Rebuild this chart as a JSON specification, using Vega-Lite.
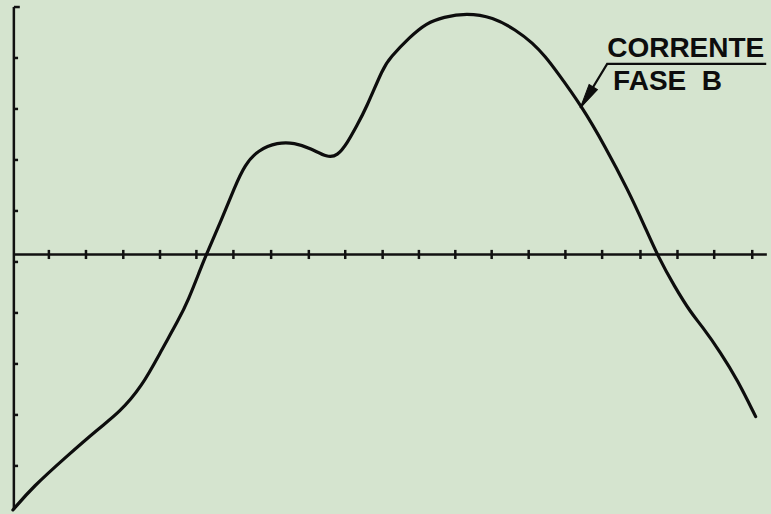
{
  "$schema": "https://vega.github.io/schema/vega-lite/v6.json",
  "width": 771,
  "height": 514,
  "autosize": {"type": "fit", "contains": "padding"},
  "padding": 0,
  "background": "#d5e4cf",
  "config": {"view": {"stroke": null}},
  "datasets": {
    "curve": [
      {"t": -0.05, "v": -5.02},
      {"t": 0.487, "v": -4.57},
      {"t": 1.402, "v": -3.97},
      {"t": 2.29, "v": -3.41},
      {"t": 2.83, "v": -3.11},
      {"t": 3.447, "v": -2.6},
      {"t": 3.985, "v": -1.876},
      {"t": 4.443, "v": -1.287},
      {"t": 4.71, "v": -0.894},
      {"t": 5.027, "v": -0.305},
      {"t": 5.195, "v": 0.0},
      {"t": 5.608, "v": 0.678},
      {"t": 5.969, "v": 1.332},
      {"t": 6.238, "v": 1.758},
      {"t": 6.596, "v": 2.053},
      {"t": 7.134, "v": 2.204},
      {"t": 7.584, "v": 2.196},
      {"t": 8.03, "v": 2.086},
      {"t": 8.48, "v": 1.902},
      {"t": 8.749, "v": 1.935},
      {"t": 9.018, "v": 2.185},
      {"t": 9.287, "v": 2.544},
      {"t": 9.51, "v": 2.839},
      {"t": 10.005, "v": 3.69},
      {"t": 10.175, "v": 3.86},
      {"t": 10.713, "v": 4.273},
      {"t": 11.17, "v": 4.548},
      {"t": 11.628, "v": 4.666},
      {"t": 12.247, "v": 4.744},
      {"t": 12.973, "v": 4.666},
      {"t": 13.592, "v": 4.41},
      {"t": 14.05, "v": 4.155},
      {"t": 14.4, "v": 3.88},
      {"t": 14.669, "v": 3.625},
      {"t": 15.388, "v": 2.904},
      {"t": 16.015, "v": 2.118},
      {"t": 16.634, "v": 1.267},
      {"t": 17.091, "v": 0.546},
      {"t": 17.449, "v": -0.043},
      {"t": 17.898, "v": -0.633},
      {"t": 18.348, "v": -1.155},
      {"t": 18.617, "v": -1.385},
      {"t": 19.155, "v": -1.935},
      {"t": 19.602, "v": -2.466},
      {"t": 20.097, "v": -3.187}
    ],
    "rules": [
      {"t": -0.024, "v": 4.862, "t2": -0.024, "v2": -5.02},
      {"t": -0.024, "v": 4.862, "t2": 0.137, "v2": 4.862},
      {"t": -0.024, "v": 3.861, "t2": 0.09, "v2": 3.861},
      {"t": -0.024, "v": 2.859, "t2": 0.09, "v2": 2.859},
      {"t": -0.024, "v": 1.857, "t2": 0.09, "v2": 1.857},
      {"t": -0.024, "v": 0.855, "t2": 0.09, "v2": 0.855},
      {"t": -0.024, "v": -0.147, "t2": 0.09, "v2": -0.147},
      {"t": -0.024, "v": -1.149, "t2": 0.09, "v2": -1.149},
      {"t": -0.024, "v": -2.151, "t2": 0.09, "v2": -2.151},
      {"t": -0.024, "v": -3.153, "t2": 0.09, "v2": -3.153},
      {"t": -0.024, "v": -4.155, "t2": 0.09, "v2": -4.155},
      {"t": -0.024, "v": 0, "t2": 20.4, "v2": 0},
      {"t": 0.926, "v": 0.09, "t2": 0.926, "v2": -0.09},
      {"t": 1.932, "v": 0.09, "t2": 1.932, "v2": -0.09},
      {"t": 2.944, "v": 0.09, "t2": 2.944, "v2": -0.09},
      {"t": 3.94, "v": 0.09, "t2": 3.94, "v2": -0.09},
      {"t": 4.927, "v": 0.09, "t2": 4.927, "v2": -0.09},
      {"t": 5.931, "v": 0.09, "t2": 5.931, "v2": -0.09},
      {"t": 6.954, "v": 0.09, "t2": 6.954, "v2": -0.09},
      {"t": 7.977, "v": 0.09, "t2": 7.977, "v2": -0.09},
      {"t": 8.964, "v": 0.09, "t2": 8.964, "v2": -0.09},
      {"t": 9.979, "v": 0.09, "t2": 9.979, "v2": -0.09},
      {"t": 10.963, "v": 0.09, "t2": 10.963, "v2": -0.09},
      {"t": 11.95, "v": 0.09, "t2": 11.95, "v2": -0.09},
      {"t": 12.936, "v": 0.09, "t2": 12.936, "v2": -0.09},
      {"t": 13.94, "v": 0.09, "t2": 13.94, "v2": -0.09},
      {"t": 14.936, "v": 0.09, "t2": 14.936, "v2": -0.09},
      {"t": 15.932, "v": 0.09, "t2": 15.932, "v2": -0.09},
      {"t": 16.972, "v": 0.09, "t2": 16.972, "v2": -0.09},
      {"t": 17.976, "v": 0.09, "t2": 17.976, "v2": -0.09},
      {"t": 18.972, "v": 0.09, "t2": 18.972, "v2": -0.09},
      {"t": 20.004, "v": 0.09, "t2": 20.004, "v2": -0.09}
    ],
    "leader": [
      {"i": 1, "t": 20.383, "v": 3.743},
      {"i": 2, "t": 16.069, "v": 3.743},
      {"i": 3, "t": 15.342, "v": 2.878}
    ],
    "arrow": [{"t": 15.516, "v": 3.084}],
    "labels": [
      {"t": 16.069, "v": 3.88, "label": "CORRENTE"},
      {"t": 16.23, "v": 3.232, "label": "FASE\u00a0\u00a0B"}
    ]
  },
  "layer": [
    {
      "data": {"name": "rules"},
      "mark": {"type": "rule", "color": "#111111", "strokeWidth": 2.5},
      "encoding": {
        "x": {"field": "t", "type": "quantitative", "scale": {"domain": [-0.4, 20.35], "nice": false, "zero": false}, "axis": null},
        "y": {"field": "v", "type": "quantitative", "scale": {"domain": [-5.1, 5.0], "nice": false, "zero": false}, "axis": null},
        "x2": {"field": "t2"},
        "y2": {"field": "v2"}
      }
    },
    {
      "data": {"name": "curve"},
      "mark": {"type": "line", "color": "#0d0d0d", "strokeWidth": 3.2, "interpolate": "basis", "strokeCap": "round", "strokeJoin": "round"},
      "encoding": {
        "x": {"field": "t", "type": "quantitative"},
        "y": {"field": "v", "type": "quantitative"}
      }
    },
    {
      "data": {"name": "leader"},
      "mark": {"type": "line", "color": "#0d0d0d", "strokeWidth": 2.2},
      "encoding": {
        "x": {"field": "t", "type": "quantitative"},
        "y": {"field": "v", "type": "quantitative"},
        "order": {"field": "i", "type": "quantitative"}
      }
    },
    {
      "data": {"name": "arrow"},
      "mark": {"type": "point", "shape": "M0,-1L0.4,1L-0.4,1Z", "filled": true, "fill": "#0d0d0d", "stroke": "#0d0d0d", "strokeWidth": 1, "size": 600, "angle": 212, "opacity": 1, "fillOpacity": 1},
      "encoding": {
        "x": {"field": "t", "type": "quantitative"},
        "y": {"field": "v", "type": "quantitative"}
      }
    },
    {
      "data": {"name": "labels"},
      "mark": {"type": "text", "align": "left", "baseline": "alphabetic", "font": "Liberation Sans", "fontWeight": "bold", "fontSize": 28, "color": "#0d0d0d"},
      "encoding": {
        "x": {"field": "t", "type": "quantitative"},
        "y": {"field": "v", "type": "quantitative"},
        "text": {"field": "label", "type": "nominal"}
      }
    }
  ]
}
